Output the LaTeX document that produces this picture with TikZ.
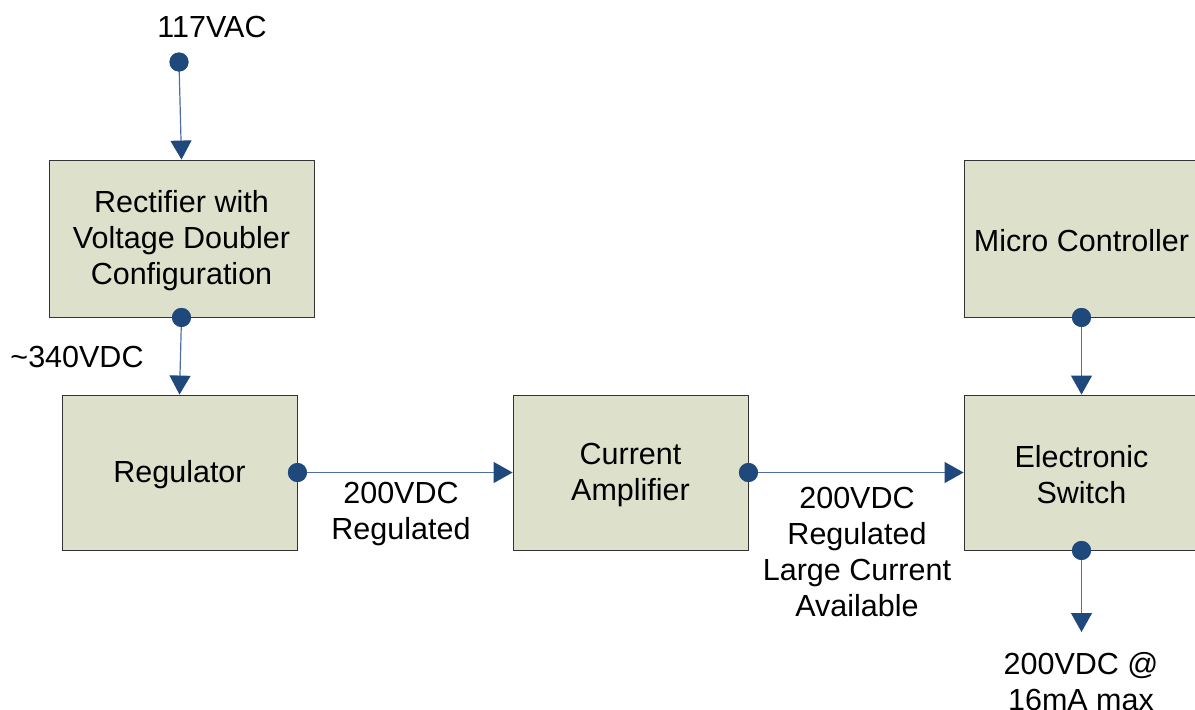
\documentclass[tikz,border=0pt]{standalone}
\usepackage{fontspec}
\setmainfont{Liberation Sans}
\usetikzlibrary{arrows.meta}
\definecolor{boxfill}{RGB}{221,224,203}
\definecolor{dotblue}{RGB}{31,73,125}
\definecolor{lineblue}{RGB}{79,111,160}
\tikzset{
  blk/.style={draw=black!80, line width=0.9pt, fill=boxfill, rectangle, align=center,
    inner sep=0pt, font=\fontsize{30.5}{36}\selectfont},
  lbl/.style={align=center, inner sep=0pt, font=\fontsize{30.5}{36}\selectfont},
  dot/.style={circle, fill=dotblue, inner sep=0pt, minimum size=19pt},
  conn/.style={draw=lineblue, line width=1.2pt, -{Triangle[width=21pt,length=19pt,fill=dotblue,color=dotblue]}, shorten >=0pt},
}
\begin{document}
\begin{tikzpicture}[x=1pt,y=-1pt]
\clip (0,0) rectangle (1195,710);
\fill[white] (0,0) rectangle (1195,710);
% boxes
\node[blk, minimum width=265pt, minimum height=157pt] (rect) at (181.5,238.5) {\rule{0pt}{26pt}Rectifier with\\Voltage Doubler\\Configuration};
\node[blk, minimum width=235pt, minimum height=155pt] (reg) at (179.5,472.5) {\rule{0pt}{26pt}Regulator};
\node[blk, minimum width=235pt, minimum height=155pt] (amp) at (630.5,472.5) {\rule{0pt}{26pt}Current\\Amplifier};
\node[blk, minimum width=235pt, minimum height=157pt] (mc) at (1081.5,238.5) {\rule{0pt}{26pt}Micro Controller};
\node[blk, minimum width=235pt, minimum height=155pt] (sw) at (1081.5,472.5) {\rule{0pt}{26pt}Electronic\\Switch};
% dots
\node[dot] (d0) at (179,62) {};
\node[dot] (d1) at (rect.south) {};
\node[dot] (d2) at (reg.east) {};
\node[dot] (d3) at (amp.east) {};
\node[dot] (d4) at (mc.south) {};
\node[dot] (d5) at (sw.south) {};
\coordinate (out) at (1081.5,632);
% connectors
\draw[conn] (d0.center) -- (rect.north);
\draw[conn] (d1.center) -- (reg.north);
\draw[conn] (d2.center) -- (amp.west);
\draw[conn] (d3.center) -- (sw.west);
\draw[conn] (d4.center) -- (sw.north);
\draw[conn] (d5.center) -- (out);
% redraw dots on top
\foreach \d in {d0,d1,d2,d3,d4,d5} \fill[dotblue] (\d.center) circle (9.5pt);
% labels
\node[lbl] (t0) at (212,27) {117VAC};
\node[lbl] (t1) at (77,357) {\char`\~340VDC};
\node[lbl] (t2) at (401,514) {200VDC\\Regulated};
\node[lbl] (t3) at (857,552) {200VDC\\Regulated\\Large Current\\Available};
\node[lbl] (t4) at (1081,682) {200VDC @\\16mA max};
\end{tikzpicture}
\end{document}
